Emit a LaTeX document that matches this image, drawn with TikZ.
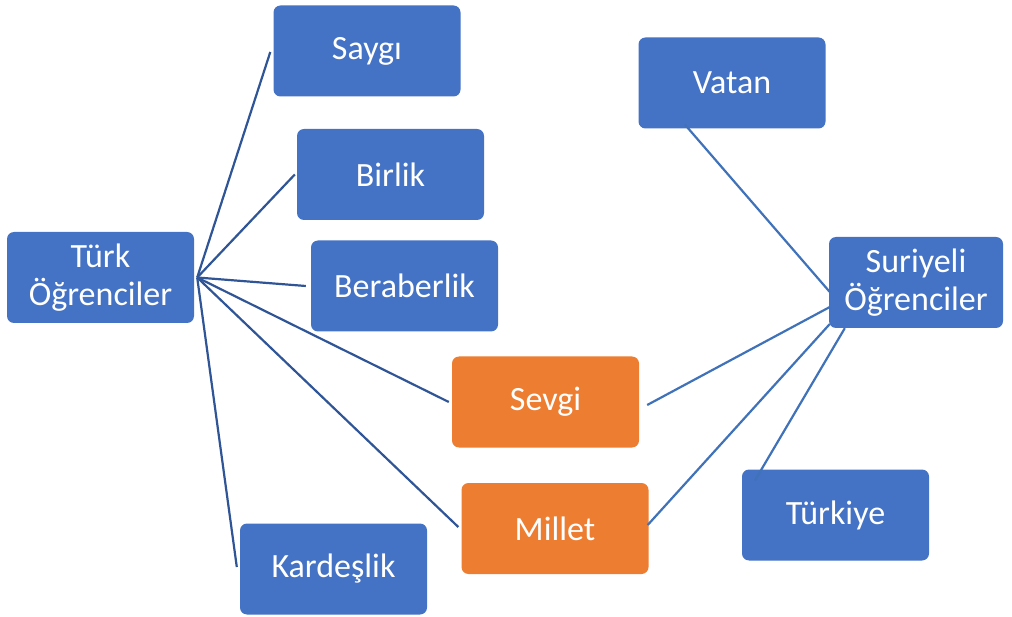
\documentclass[tikz,border=0pt]{standalone}
\usepackage{fontspec}
\setmainfont{Carlito}
\definecolor{boxblue}{HTML}{4472C4}
\definecolor{boxorange}{HTML}{ED7D31}
\definecolor{linedark}{HTML}{2F5597}
\definecolor{linelight}{HTML}{3F72B8}
\begin{document}
\begin{tikzpicture}[x=1pt,y=-1pt,
  box/.style={rounded corners=7pt, fill=boxblue, text=white, inner sep=0pt,
    minimum width=187pt, minimum height=91pt, align=center,
    font=\fontsize{34}{38}\selectfont},
  obox/.style={box, fill=boxorange},
  lconn/.style={draw=linedark, line width=2.2pt},
  rconn/.style={draw=linelight, line width=2.2pt}]
\useasboundingbox (0,0) rectangle (1012,617);
\node[box] (turk) at (100.5,277.5) {Türk\\Öğrenciler};
\node[box] (saygi) at (367,51) {Saygı};
\node[box] (birlik) at (390.5,174.5) {Birlik};
\node[box] (berab) at (404.5,286) {Beraberlik};
\node[obox] (sevgi) at (545.5,402) {Sevgi};
\node[obox] (millet) at (555,528.5) {Millet};
\node[box] (kardes) at (333.5,569) {Kardeşlik};
\node[box] (vatan) at (732,83) {Vatan};
\node[box, minimum width=174pt] (suri) at (916,282.5) {Suriyeli\\Öğrenciler};
\node[box] (turkiye) at (835.5,515) {Türkiye};
% hub points
\coordinate (lhub) at ([xshift=3pt]turk.east);
% left connectors
\draw[lconn] (lhub) -- ([xshift=-3pt,yshift=-1pt]saygi.west);
\draw[lconn] (lhub) -- ([xshift=-2pt]birlik.west);
\draw[lconn] (lhub) -- ([xshift=-5pt]berab.west);
\draw[lconn] (lhub) -- ([xshift=-3pt]sevgi.west);
\draw[lconn] (lhub) -- ([xshift=-3pt,yshift=1.5pt]millet.west);
\draw[lconn] (lhub) -- ([xshift=-3pt,yshift=2pt]kardes.west);
% right connectors
\draw[rconn] ([xshift=-47pt,yshift=4pt]vatan.south) -- ([xshift=1pt,yshift=-9.5pt]suri.west);
\draw[rconn] ([xshift=8pt,yshift=-3pt]sevgi.east) -- ([xshift=1pt,yshift=-24.5pt]suri.west);
\draw[rconn] ([xshift=-1pt,yshift=3.5pt]millet.east) -- ([xshift=1pt,yshift=-41.5pt]suri.west);
\draw[rconn] ([xshift=-80.5pt,yshift=-11pt]turkiye.north) -- ([xshift=16pt]suri.south west);
\end{tikzpicture}
\end{document}
